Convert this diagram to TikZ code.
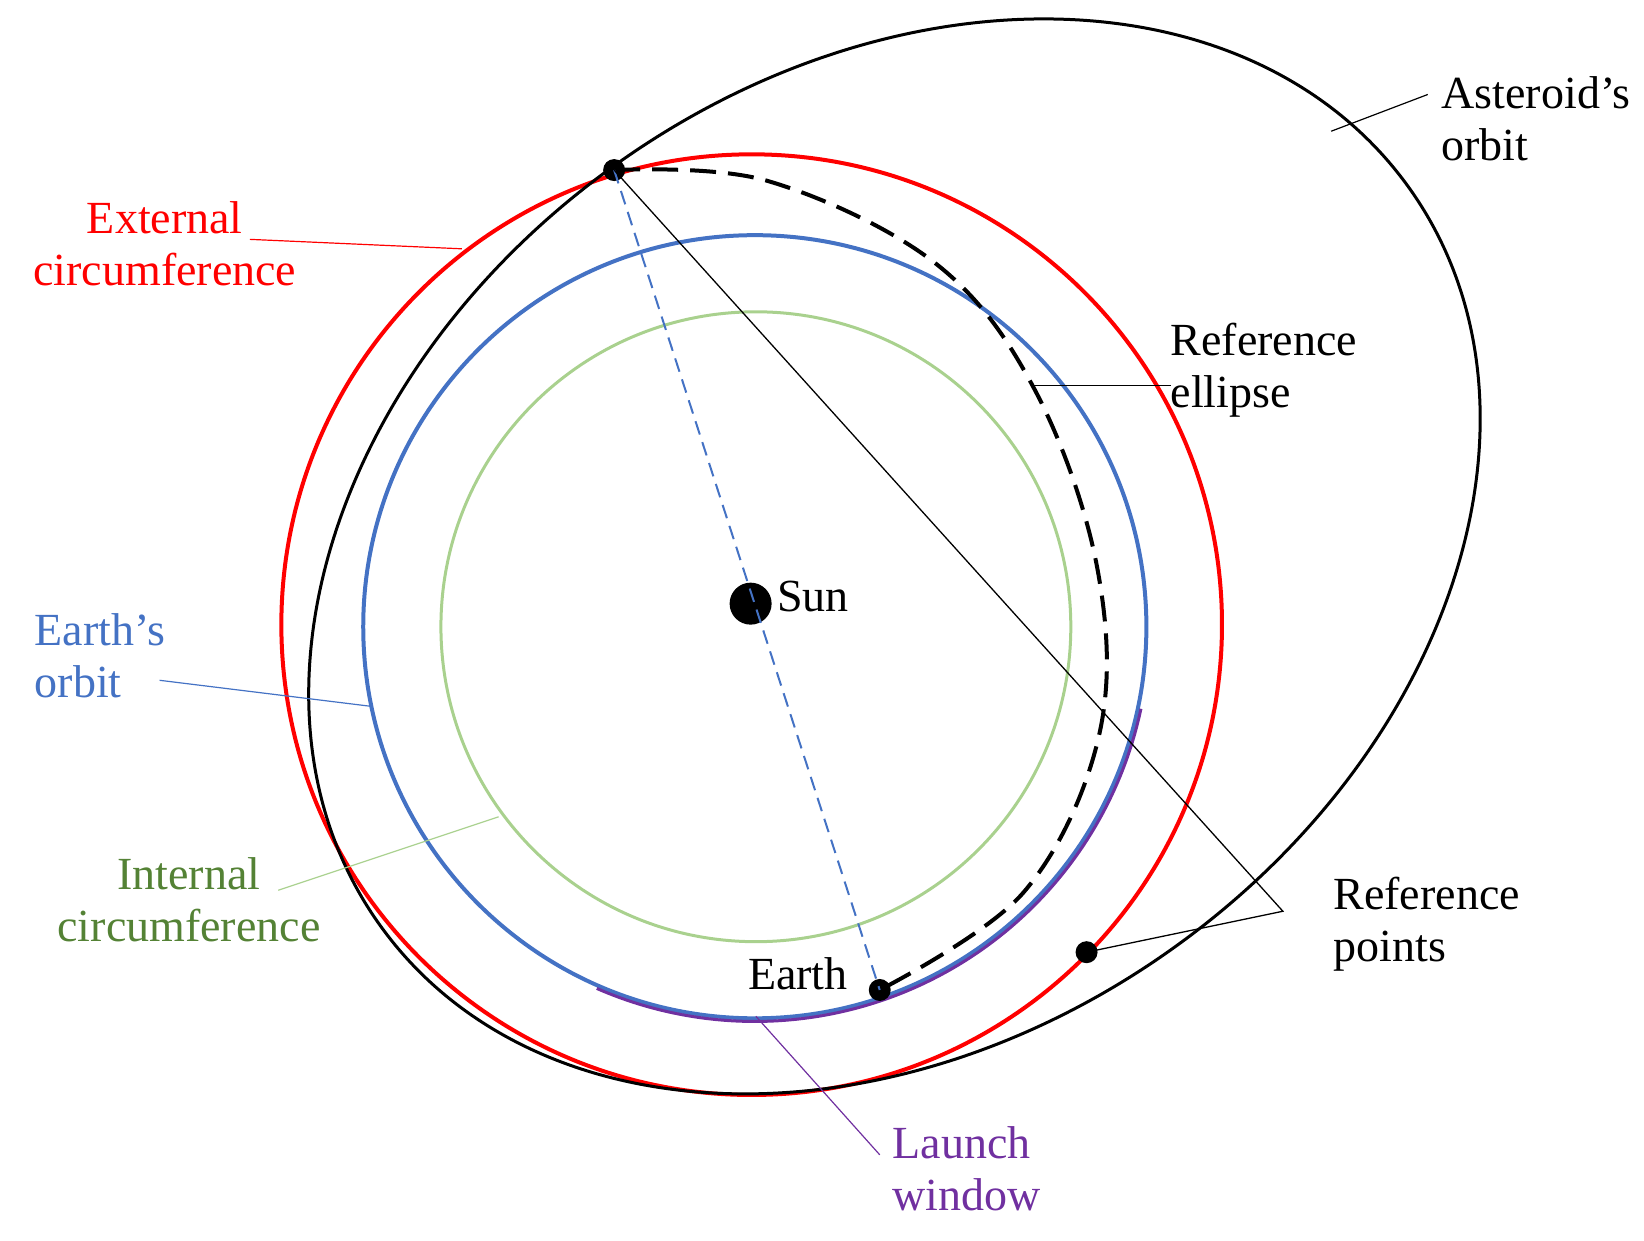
\documentclass[tikz,border=0pt]{standalone}
\usepackage{fontspec}
\setmainfont{Liberation Serif}
\begin{document}
\begin{tikzpicture}[x=1.05pt,y=-1.05pt,
  lbl/.style={font=\fontsize{46}{52}\selectfont,align=left,inner sep=0pt},
  dot/.style={circle,fill=black,inner sep=0pt,minimum size=22pt},
  lead/.style={line width=1.2pt}]
\definecolor{cred}{HTML}{FF0000}
\definecolor{cblue}{HTML}{4472C4}
\definecolor{cgreen}{HTML}{A9D18E}
\definecolor{tgreen}{HTML}{548235}
\definecolor{cpur}{HTML}{7030A0}
\useasboundingbox (0,0) rectangle (1566,1182);
% circles
\draw[cred,line width=4pt] (716,595) circle (448);
\draw[cgreen,line width=3pt] (720,597) circle (300);
\draw[cblue,line width=4pt] (719,597) circle (373);
% launch window
\draw[cpur,line width=3pt] (719,597) ++(113.6:376) arc (113.6:12:376);
% asteroid orbit
\draw[line width=3pt,rotate around={35.7:(852,530)}] (852,530) ellipse [x radius=603, y radius=458];
% reference ellipse
\draw[line width=4pt,dash pattern=on 26pt off 12pt] plot[smooth,tension=0.6] coordinates {(585,162) (730,172) (890,250) (985,370) (1045,540) (1047,700) (975,850) (838,943)};
% points
\node[dot] (A) at (585,162) {};
\node[dot] (E) at (838,943) {};
\node[dot] (R) at (1035,907) {};
\node[dot,minimum size=42pt] (S) at (715,575) {};
\draw[cblue,line width=2pt,dash pattern=on 14pt off 8pt] (A.center) -- (E.center);
\coordinate (V) at (1222,868);
\draw[line width=1.3pt] (A.center) -- (V) -- (R.center);
% labels
\node[lbl,anchor=west] (sun) at (740,568) {Sun};
\node[lbl,anchor=center] (earth) at (760,928) {Earth};
\node[lbl,anchor=west] (ast) at (1373,113) {Asteroid’s\\orbit};
\coordinate (a1) at (1268,125); \draw[lead] (1360,90) -- (a1);
\node[lbl,anchor=center,text=cred,align=center] (ext) at (157,232) {External\\circumference};
\draw[lead,cred] (238,228) -- (440,237);
\node[lbl,anchor=west] (rell) at (1115,353) {Reference\\ellipse};
\draw[lead] (rell.west |- 0,367) -- (985,367);
\node[lbl,anchor=west,text=cblue] (eorb) at (33,625) {Earth’s\\orbit};
\draw[lead,cblue] (152,648) -- (355,673);
\node[lbl,anchor=center,text=tgreen,align=center] (int) at (180,857) {Internal\\circumference};
\draw[lead,cgreen] (265,848) -- (475,778);
\node[lbl,anchor=west] (rp) at (1270,880) {Reference\\points};
\node[lbl,anchor=west,text=cpur] (lw) at (850,1113) {Launch\\window};
\draw[lead,cpur] (838,1100) -- (720,968);
\end{tikzpicture}
\end{document}
